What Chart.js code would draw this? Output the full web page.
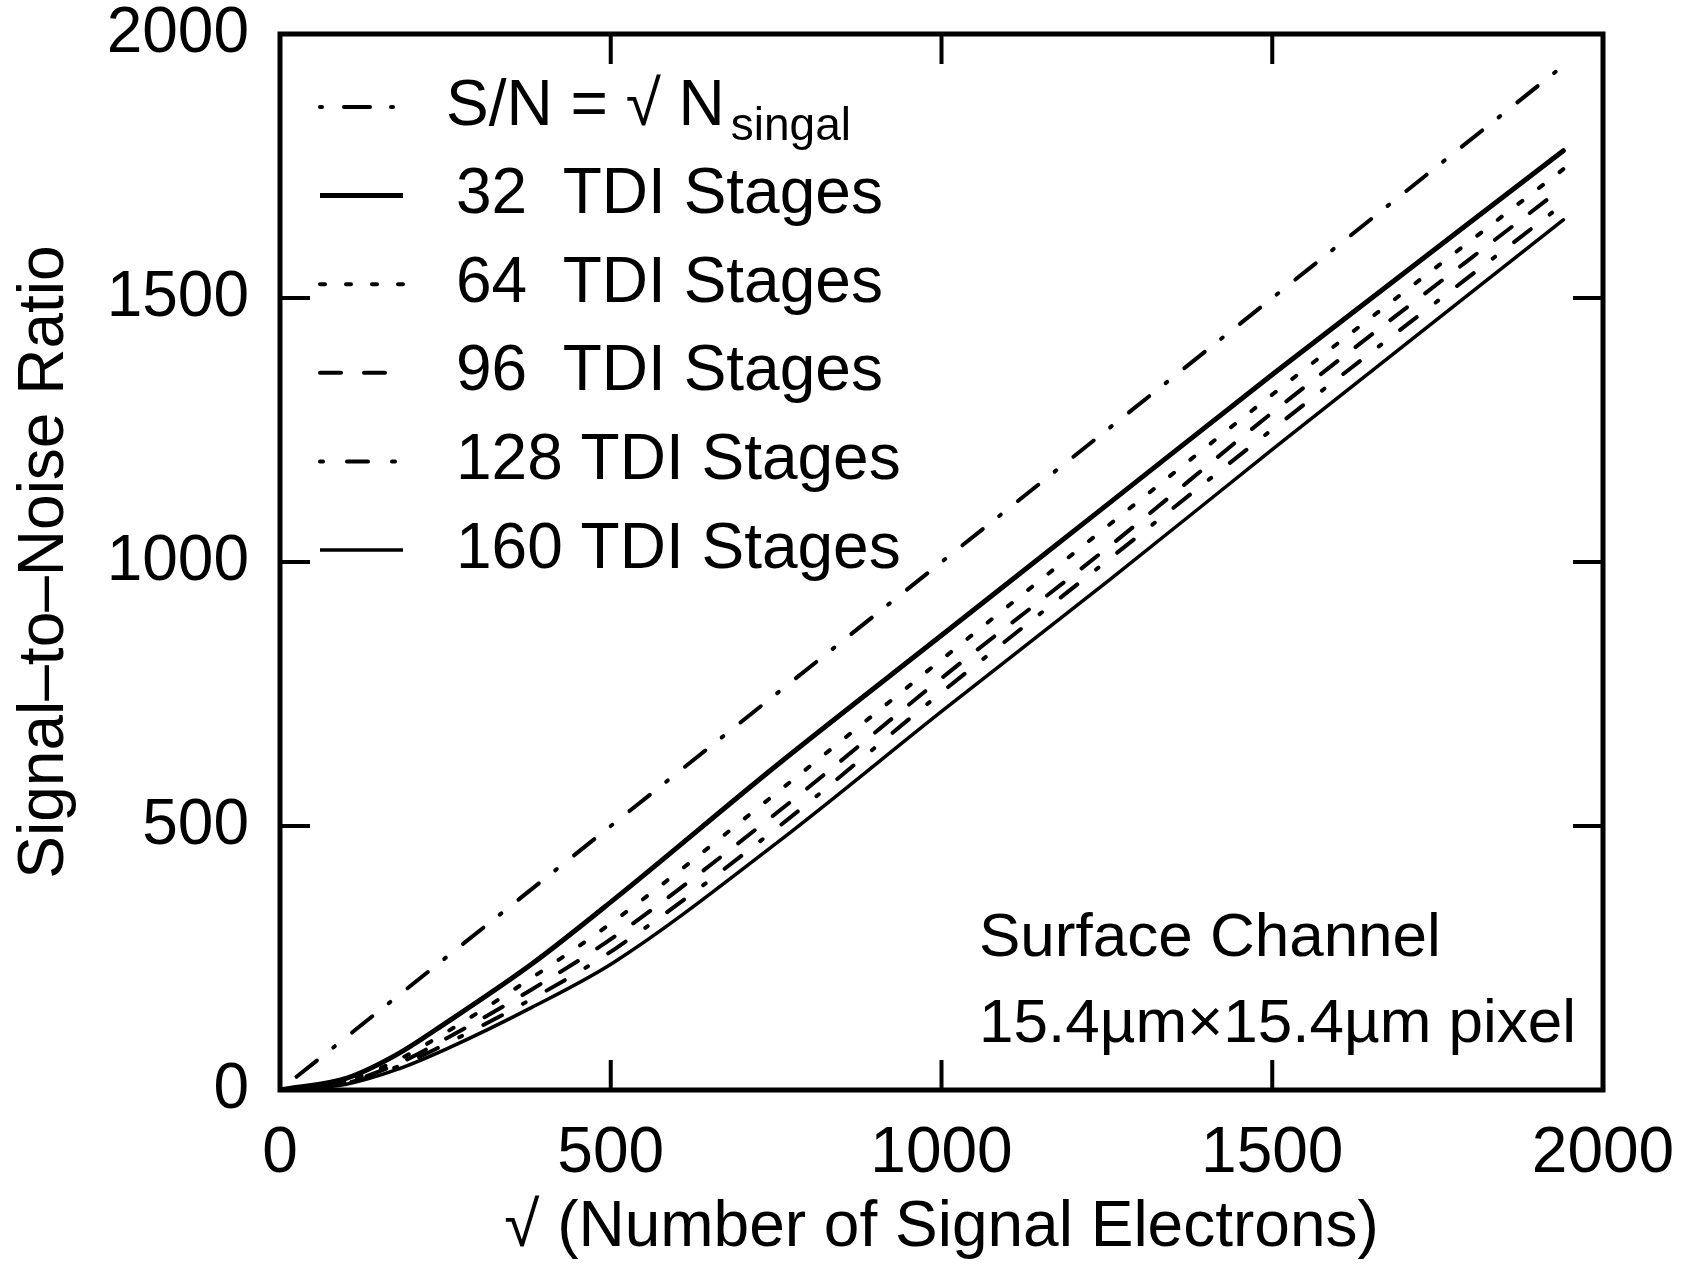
<!DOCTYPE html>
<html>
<head>
<meta charset="utf-8">
<script src="https://cdn.jsdelivr.net/npm/chart.js@4.4.0/dist/chart.umd.min.js"></script>
<style>
  html, body { margin: 0; padding: 0; background: #fff; }
  #wrap { width: 1684px; height: 1271px; }
</style>
</head>
<body>
<div id="wrap"><canvas id="snr" width="1684" height="1271"></canvas></div>
<script>
// sqrt(number of signal electrons)
const xPoints = [0, 100, 175, 252, 380, 505, 752, 1003, 1254, 1504, 1940];
const tdi32  = [0, 22, 66, 128, 238, 361, 616, 864, 1112, 1359, 1779];
const tdi64  = [0, 18, 55, 110, 212, 320, 564, 818, 1071, 1321, 1744];
const tdi96  = [0, 15, 48,  98, 190, 290, 526, 783, 1030, 1287, 1710];
const tdi128 = [0, 13, 43,  88, 172, 266, 497, 756, 1006, 1255, 1678];
const tdi160 = [0, 11, 38,  78, 156, 242, 469, 720,  966, 1217, 1648];

// shot-noise limit S/N = sqrt(N)
const idealX = [25, 1940];
const idealY = [25, 1940];

const axisTicks = [0, 500, 1000, 1500, 2000];

const FONT = '"Liberation Sans", Arial, Helvetica, sans-serif';

function pts(xs, ys) {
    return xs.map((x, i) => ({ x: x, y: ys[i] }));
}

const datasets = [
    { label: 'S/N = \u221A N', sub: 'singal', data: pts(idealX, idealY),
      borderWidth: 4, borderDash: [26, 21, 2, 22], legendOffset: 47, textX: 446 },
    { label: '32  TDI Stages', data: pts(xPoints, tdi32), borderWidth: 5, borderDash: [] },
    { label: '64  TDI Stages', data: pts(xPoints, tdi64), borderWidth: 4, borderDash: [5, 21], legendOffset: 0 },
    { label: '96  TDI Stages', data: pts(xPoints, tdi96), borderWidth: 4, borderDash: [21, 23], legendOffset: 0 },
    { label: '128 TDI Stages', data: pts(xPoints, tdi128), borderWidth: 4, borderDash: [21, 24, 3, 24], legendOffset: 45 },
    { label: '160 TDI Stages', data: pts(xPoints, tdi160), borderWidth: 3.5, borderDash: [] }
].map(d => Object.assign({
    borderColor: '#000',
    borderCapStyle: 'round',
    pointRadius: 0,
    fill: false,
    cubicInterpolationMode: 'monotone'
}, d));

// frame, inward ticks, legend and the note, drawn on top
const paperPlugin = {
    id: 'paper',
    beforeDraw(chart) {
        const ctx = chart.ctx;
        ctx.save();
        ctx.fillStyle = '#fff';
        ctx.fillRect(0, 0, chart.width, chart.height);
        ctx.restore();
    },
    afterDraw(chart) {
        const ctx = chart.ctx;
        const a = chart.chartArea;
        const x = chart.scales.x, y = chart.scales.y;
        ctx.save();
        ctx.strokeStyle = '#000';
        ctx.setLineDash([]);
        ctx.lineWidth = 5;
        ctx.strokeRect(a.left, a.top, a.right - a.left, a.bottom - a.top);

        ctx.lineWidth = 4;
        const tl = 30;
        axisTicks.slice(1, -1).forEach(v => {
            const px = x.getPixelForValue(v), py = y.getPixelForValue(v);
            ctx.beginPath();
            ctx.moveTo(px, a.bottom); ctx.lineTo(px, a.bottom - tl);
            ctx.moveTo(px, a.top); ctx.lineTo(px, a.top + tl);
            ctx.moveTo(a.left, py); ctx.lineTo(a.left + tl, py);
            ctx.moveTo(a.right, py); ctx.lineTo(a.right - tl, py);
            ctx.stroke();
        });

        // legend
        ctx.fillStyle = '#000';
        ctx.textBaseline = 'middle';
        ctx.textAlign = 'left';
        chart.data.datasets.forEach((ds, i) => {
            const yy = 107 + i * 88.6;
            ctx.beginPath();
            ctx.setLineDash(ds.borderDash);
            ctx.lineDashOffset = ds.legendOffset || 0;
            ctx.lineWidth = ds.borderWidth;
            ctx.lineCap = ds.borderDash.length ? 'round' : 'butt';
            ctx.moveTo(320, yy);
            ctx.lineTo(403, yy);
            ctx.stroke();
            ctx.setLineDash([]);
            const tx = ds.textX || 456;
            ctx.font = '64px ' + FONT;
            ctx.fillText(ds.label, tx, yy);
            if (ds.sub) {
                const w = ctx.measureText(ds.label).width;
                ctx.font = '46px ' + FONT;
                ctx.fillText(ds.sub, tx + w + 6, yy + 20);
            }
        });

        ctx.textBaseline = 'alphabetic';
        ctx.font = '62px ' + FONT;
        ctx.fillText('Surface Channel', 979, 956);
        ctx.fillText('15.4\u00B5m\u00D715.4\u00B5m pixel', 979, 1042);
        ctx.restore();
    }
};

const tickFont = { family: FONT, size: 64, lineHeight: 1 };

new Chart(document.getElementById('snr'), {
    type: 'line',
    data: { datasets: datasets },
    options: {
        responsive: false,
        animation: false,
        events: [],
        layout: { padding: { top: 34, right: 81, left: 0, bottom: 0 } },
        plugins: { legend: { display: false }, tooltip: { enabled: false } },
        scales: {
            x: {
                type: 'linear',
                min: axisTicks[0],
                max: axisTicks[axisTicks.length - 1],
                afterBuildTicks: s => { s.ticks = axisTicks.map(v => ({ value: v })); },
                afterFit: s => { s.height = 181; s.paddingLeft = 0; s.paddingRight = 0; },
                grid: { display: false, drawTicks: false },
                border: { display: false },
                ticks: { color: '#000', font: tickFont, padding: 32, maxRotation: 0,
                         callback: v => String(v) },
                title: { display: true, text: '\u221A (Number of Signal Electrons)', color: '#000',
                         font: { family: FONT, size: 64 }, padding: { top: 0, bottom: 4 } }
            },
            y: {
                type: 'linear',
                min: axisTicks[0],
                max: axisTicks[axisTicks.length - 1],
                afterBuildTicks: s => { s.ticks = axisTicks.map(v => ({ value: v })); },
                afterFit: s => { s.width = 280; s.paddingTop = 0; s.paddingBottom = 0; },
                grid: { display: false, drawTicks: false },
                border: { display: false },
                ticks: { color: '#000', font: tickFont, padding: 31,
                         callback: v => String(v) },
                title: { display: true, text: 'Signal\u2013to\u2013Noise Ratio', color: '#000',
                         font: { family: FONT, size: 64 }, padding: { top: 7, bottom: 0 } }
            }
        }
    },
    plugins: [paperPlugin]
});
</script>
</body>
</html>
